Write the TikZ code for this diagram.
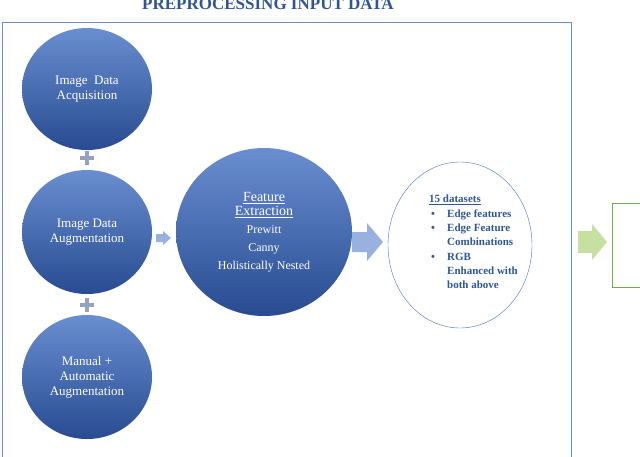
\documentclass[tikz,border=0pt]{standalone}
\usepackage{fontspec}
\setmainfont{Liberation Serif}
\usetikzlibrary{shapes.geometric}
\definecolor{bl}{RGB}{68,114,196}
\definecolor{bd}{RGB}{40,75,145}
\definecolor{tx}{RGB}{47,85,151}
\definecolor{gr}{RGB}{197,224,160}
\definecolor{gb}{RGB}{112,173,71}
\tikzset{
 blob/.style={ellipse,inner sep=0pt,top color=bl!80,bottom color=bd,draw=none,text=white,align=center,font=\fontsize{13}{15}\selectfont},
 plus/.style={fill=gray!60!bl!70,draw=none},
}
\newcommand{\myarrow}[6]{% x0 x1 y shaftHalf headHalf headLen, color
 \fill[#6] (#1,#3-#4) -- (#2-#5,#3-#4) -- (#2-#5,#3-#5*0+0) ;}
\begin{document}
\begin{tikzpicture}[x=1pt,y=-1pt]
\useasboundingbox (0,0) rectangle (640,456);
\node (title) at (268,4) {\textcolor{tx}{\bfseries\fontsize{17}{17}\selectfont PREPROCESSING INPUT DATA}};
\draw[bl!80,line width=1pt] (2,470) -- (2,22) -- (571,22) -- (571,470);
\node[blob,minimum width=130pt,minimum height=122pt] (a) at (87,89) {Image\ \ Data\\Acquisition};
\node[blob,minimum width=130pt,minimum height=124pt] (b) at (87,232) {Image Data\\Augmentation};
\node[blob,minimum width=130pt,minimum height=124pt] (c) at (87,377) {Manual +\\Automatic\\Augmentation};
\foreach \n/\y in {p1/158,p2/305}{
 \coordinate (\n) at (87,\y);
 \fill[plus] ([shift={(-7,-2)}]\n) rectangle ([shift={(7,2)}]\n);
 \fill[plus] ([shift={(-2,-7)}]\n) rectangle ([shift={(2,7)}]\n);
}
\coordinate (s1) at (156,238);
\fill[bl!55] (s1) ++(0,-4) -- ++(7,0) -- ++(0,-3) -- ++(8,7) -- ++(-8,7) -- ++(0,-3) -- ++(-7,0) -- cycle;
\node[blob,minimum width=176pt,minimum height=168pt,font=\fontsize{12}{18}\selectfont] (f) at (264,232)
 {{\fontsize{14}{15}\selectfont\underline{Feature}}\\[-4pt]{\fontsize{14}{15}\selectfont\underline{Extraction}}\\Prewitt\\Canny\\Holistically Nested};
\coordinate (s2) at (352,242);
\fill[bl!55] (s2) ++(0,-10) -- ++(15,0) -- ++(0,-9) -- ++(16,19) -- ++(-16,19) -- ++(0,-9) -- ++(-15,0) -- cycle;
\node[ellipse,draw=bl,minimum width=144pt,minimum height=166pt,inner sep=0pt] (d) at (460,245) {};
\node[text=tx,font=\bfseries\fontsize{11}{14.3}\selectfont,align=left,anchor=north west,inner sep=0pt] (dt) at (429,195)
 {\underline{15 datasets}\\
 \makebox[18pt][l]{\hspace{2pt}•}Edge features\\
 \makebox[18pt][l]{\hspace{2pt}•}Edge Feature\\
 \hspace{18pt}Combinations\\
 \makebox[18pt][l]{\hspace{2pt}•}RGB\\
 \hspace{18pt}Enhanced with\\
 \hspace{18pt}both above};
\coordinate (g) at (578,242);
\fill[gr] (g) ++(0,-11) -- ++(14,0) -- ++(0,-7) -- ++(15,18) -- ++(-15,18) -- ++(0,-7) -- ++(-14,0) -- cycle;
\draw[gb,line width=1pt] (645,203) -- (612,203) -- (612,287) -- (645,287);
\end{tikzpicture}
\end{document}
